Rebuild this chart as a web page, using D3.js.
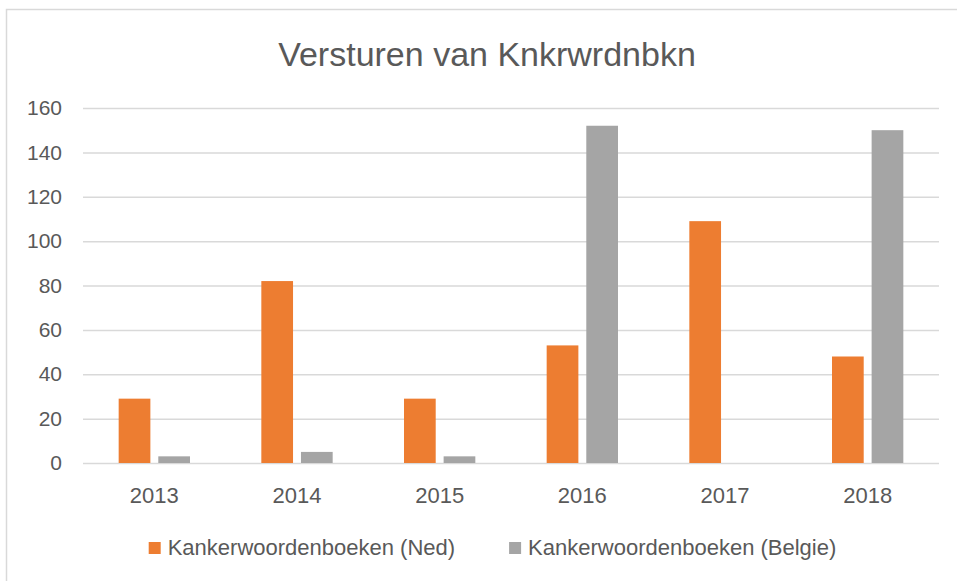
<!DOCTYPE html>
<html>
<head>
<meta charset="utf-8">
<script src="https://cdn.jsdelivr.net/npm/d3@7"></script>
<style>
	body { margin: 0; background: #fff; }
	svg text { font-family: 'Liberation Sans', Arial, sans-serif; fill: #595959; }
</style>
</head>
<body>
<svg id="chart" width="957" height="581"></svg>
<script>
const YEARS = ['2013', '2014', '2015', '2016', '2017', '2018'];
const SERIES = ['Kankerwoordenboeken (Ned)', 'Kankerwoordenboeken (Belgie)'];
const NED = [29, 82, 29, 53, 109, 48];
const BELGIE = [3, 5, 3, 152, 0, 150];
const Y_TICKS = [0, 20, 40, 60, 80, 100, 120, 140, 160];
const COLORS = ['#ED7D31', '#A5A5A5'];

const svg = d3.select('#chart');

// outer chart frame (only top/left edges are visible in the crop)
svg.append('rect')
	.attr('x', 6.5)
	.attr('y', 9.5)
	.attr('width', 1000)
	.attr('height', 1000)
	.attr('fill', 'none')
	.attr('stroke', '#d9d9d9')
	.attr('stroke-width', 1.5);

const margin = { top: 108, left: 83, right: 18, bottom: 118 };
const width = 957 - margin.left - margin.right;
const height = 581 - margin.top - margin.bottom;

const g = svg.append('g')
	.attr('transform', 'translate(' + margin.left + ',' + margin.top + ')');

// scales
const x0 = d3.scaleBand()
	.domain(YEARS)
	.range([0, width])
	.paddingInner(0.5)
	.paddingOuter(0.25);

const x1 = d3.scaleBand()
	.domain(SERIES)
	.range([0, x0.bandwidth()])
	.paddingInner(0.2);

const y = d3.scaleLinear()
	.domain([0, 160])
	.range([height, 0]);

// y axis + gridlines
const yAxis = g.append('g')
	.call(d3.axisLeft(y).tickValues(Y_TICKS).tickSize(-width).tickPadding(21));
yAxis.select('.domain').remove();
yAxis.selectAll('line').attr('stroke', '#d9d9d9').attr('stroke-width', 1.5);
yAxis.selectAll('text').style('font-size', '21px').attr('fill', '#595959');

// x axis
const xAxis = g.append('g')
	.attr('transform', 'translate(0,' + height + ')')
	.call(d3.axisBottom(x0).tickSize(0).tickPadding(24));
xAxis.select('.domain').remove();
xAxis.selectAll('text').style('font-size', '22px').attr('fill', '#595959');

// bars
const rows = YEARS.map((year, i) => ({ year, values: [NED[i], BELGIE[i]] }));

g.selectAll('.group')
	.data(rows)
	.enter()
	.append('g')
	.attr('class', 'group')
	.attr('transform', d => 'translate(' + x0(d.year) + ',0)')
	.selectAll('rect')
	.data(d => d.values.map((v, k) => ({ key: SERIES[k], value: v, k })))
	.enter()
	.append('rect')
	.attr('x', d => x1(d.key))
	.attr('width', x1.bandwidth())
	.attr('y', d => y(d.value))
	.attr('height', d => height - y(d.value))
	.attr('fill', d => COLORS[d.k]);

// title
svg.append('text')
	.attr('x', 487)
	.attr('y', 66)
	.attr('text-anchor', 'middle')
	.style('font-size', '34px')
	.text('Versturen van Knkrwrdnbkn');

// legend
const legend = svg.append('g').attr('transform', 'translate(0,555)');
const items = legend.selectAll('.item')
	.data(SERIES)
	.enter()
	.append('g')
	.attr('class', 'item');

items.append('rect')
	.attr('y', -13)
	.attr('width', 12)
	.attr('height', 12)
	.attr('fill', (d, i) => COLORS[i]);

items.append('text')
	.attr('x', 19)
	.style('font-size', '22px')
	.text(d => d);

// lay out legend items side by side, centred
const GAP = 54;
let offset = 0;
const positions = [];
items.each(function () {
	const w = this.getBBox().width;
	positions.push(offset);
	offset += w + GAP;
});
const totalWidth = offset - GAP;
const start = 492.5 - totalWidth / 2;
items.attr('transform', (d, i) => 'translate(' + (start + positions[i]) + ',0)');
</script>
</body>
</html>
